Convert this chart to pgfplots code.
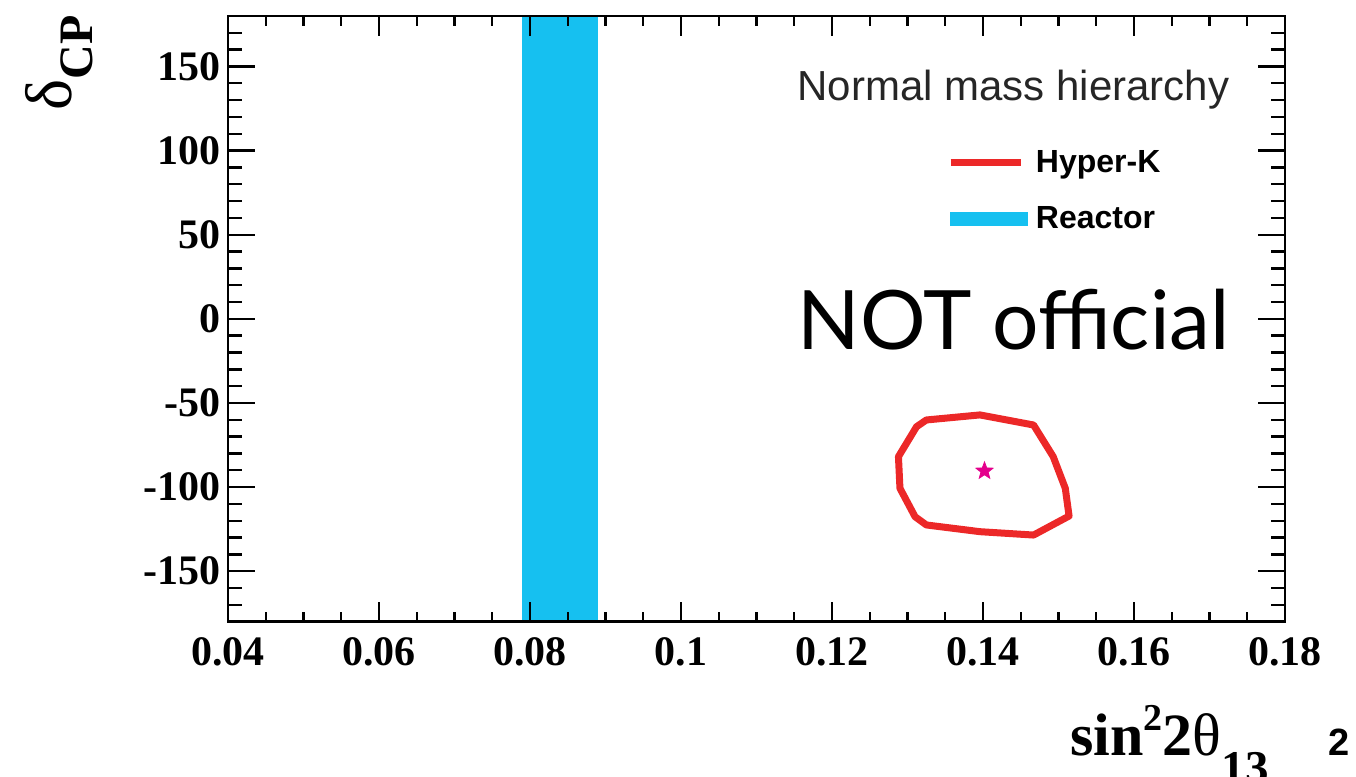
\documentclass[border=0pt]{standalone}
\usepackage{pgfplots}
\pgfplotsset{compat=1.18}
\usepackage{fontspec}
\setmainfont{Liberation Serif}
\newfontfamily\helv{Liberation Sans}
\newfontfamily\lato{Lato}
\definecolor{hkred}{RGB}{236,40,40}
\definecolor{reactor}{RGB}{22,192,240}
\definecolor{starmag}{RGB}{228,0,140}
\pgfdeclareplotmark{fstar}{%
 \pgfpathmoveto{\pgfpointpolar{90}{\pgfplotmarksize}}%
 \pgfpathlineto{\pgfpointpolar{126}{0.42\pgfplotmarksize}}%
 \pgfpathlineto{\pgfpointpolar{162}{\pgfplotmarksize}}%
 \pgfpathlineto{\pgfpointpolar{198}{0.42\pgfplotmarksize}}%
 \pgfpathlineto{\pgfpointpolar{234}{\pgfplotmarksize}}%
 \pgfpathlineto{\pgfpointpolar{270}{0.42\pgfplotmarksize}}%
 \pgfpathlineto{\pgfpointpolar{306}{\pgfplotmarksize}}%
 \pgfpathlineto{\pgfpointpolar{342}{0.42\pgfplotmarksize}}%
 \pgfpathlineto{\pgfpointpolar{18}{\pgfplotmarksize}}%
 \pgfpathlineto{\pgfpointpolar{54}{0.42\pgfplotmarksize}}%
 \pgfpathclose\pgfusepathqfillstroke}
\begin{document}
\begin{tikzpicture}
\path[use as bounding box] (-114pt,-77.65pt) rectangle (564pt,310.85pt);
\begin{axis}[
  at={(0pt,0pt)}, anchor=south west,
  width=528.5pt, height=302.85pt, scale only axis,
  xmin=0.04, xmax=0.18, ymin=-180, ymax=180,
  xtick={0.04,0.06,0.08,0.1,0.12,0.14,0.16,0.18},
  xticklabels={0.04,0.06,0.08,0.1,0.12,0.14,0.16,0.18},
  minor xtick={0.045,0.05,0.055,0.065,0.07,0.075,0.085,0.09,0.095,0.105,0.11,0.115,0.125,0.13,0.135,0.145,0.15,0.155,0.165,0.17,0.175},
  ytick={-150,-100,-50,0,50,100,150},
  yticklabels={-150,-100,-50,0,50,100,150},
  tick align=inside, xtick pos=both, ytick pos=left,
  major tick length=10pt, minor tick length=5pt,
  tick style={black, line width=1.2pt},
  ytick style={draw=none},
  axis line style={line width=1.4pt},
  axis on top,
  xticklabel style={font=\bfseries\fontsize{21}{21}\selectfont, inner sep=0pt},
  yticklabel style={font=\bfseries\fontsize{21}{21}\selectfont, inner sep=0pt},
  xticklabel shift=7.5pt, yticklabel shift=3.5pt,
  legend cell align=left,
  legend style={at={(0.6803,0.7788)}, anchor=north west, draw=none, fill=none,
    inner sep=0pt, outer sep=0pt, column sep=4pt, row sep=15pt,
    nodes={inner sep=0pt, text height=11.5pt, text depth=1.5pt, font=\helv\bfseries\fontsize{16}{16}\selectfont}},
  clip=true,
]
\addplot[fill=reactor, draw=none, forget plot] coordinates {(0.079,-180) (0.089,-180) (0.089,180) (0.079,180)} -- cycle;
\addplot[hkred, line width=3.5pt, line join=round, forget plot] coordinates {
(0.1396,-57.1) (0.1467,-63.1) (0.1493,-81.9) (0.1509,-100.7) (0.1514,-117.2)
(0.1467,-128.5) (0.1396,-126.5) (0.1325,-122.5) (0.1310,-117.6) (0.1290,-100.7)
(0.1288,-81.9) (0.1312,-64.1) (0.1325,-60.1)} -- cycle;
\addplot[only marks, mark=fstar, mark size=4.5pt, starmag, forget plot] coordinates {(0.1402,-90.4)};
\addlegendimage{legend image code/.code={\draw[hkred, line width=3.5pt] (0pt,0pt) -- (35pt,0pt);}}
\addlegendentry{Hyper-K}
\addlegendimage{legend image code/.code={\fill[reactor] (0pt,-3.25pt) rectangle (38.5pt,3.25pt);}}
\addlegendentry{Reactor}
\node[anchor=base west, inner sep=0pt, font=\helv\fontsize{21}{21}\selectfont, text=black!85] at (rel axis cs:0.5383,0.8613) {Normal mass hierarchy};
\node[anchor=base west, inner sep=0pt, font=\lato\fontsize{41}{41}\selectfont] at (rel axis cs:0.5383,0.4486) {NOT official};
\end{axis}
% overlay axis: longer y ticks on both sides, no labels
\begin{axis}[
  at={(0pt,0pt)}, anchor=south west,
  width=528.5pt, height=302.85pt, scale only axis,
  xmin=0.04, xmax=0.18, ymin=-180, ymax=180,
  xtick=\empty,
  ytick={-150,-100,-50,0,50,100,150},
  yticklabels={},
  minor ytick={-170,-160,-140,-130,-120,-110,-90,-80,-70,-60,-40,-30,-20,-10,10,20,30,40,60,70,80,90,110,120,130,140,160,170},
  tick align=inside, ytick pos=both,
  major tick length=13.5pt, minor tick length=7pt,
  tick style={black, line width=1.2pt},
  axis line style={line width=1.4pt},
  axis on top,
]
\end{axis}
\node[rotate=90, anchor=base east, inner sep=0pt] at (-78pt,303.35pt) {{\fontsize{33}{33}\selectfont δ}\raisebox{-10.5pt}{\bfseries\fontsize{24}{24}\selectfont CP}};
\node[anchor=base west, inner sep=0pt] at (421pt,-66.65pt) {{\bfseries\fontsize{30}{30}\selectfont sin\raisebox{12pt}{\fontsize{19}{19}\selectfont 2}2}{\fontsize{30}{30}\selectfont θ}\raisebox{-14.5pt}{\bfseries\fontsize{23.5}{23.5}\selectfont 13}};
\node[anchor=base west, inner sep=0pt] at (550pt,-66.65pt) {\helv\bfseries\fontsize{19}{19}\selectfont 2};
\end{tikzpicture}
\end{document}
